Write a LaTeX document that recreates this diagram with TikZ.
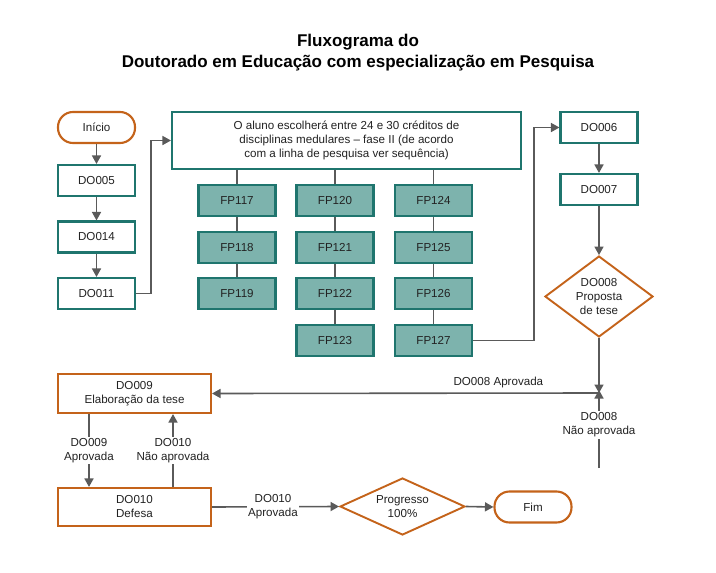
\documentclass[tikz,border=0pt]{standalone}
\usepackage{fontspec}
\setmainfont{Liberation Sans}
\usetikzlibrary{shapes.geometric,arrows.meta,positioning}
\definecolor{teal1}{HTML}{1F756E}
\definecolor{tealfill}{HTML}{7DB3AD}
\definecolor{orng}{HTML}{C4631A}
\definecolor{lgray}{HTML}{5A5A5A}
\definecolor{txt}{HTML}{222222}
\tikzset{
  base/.style={font=\fontsize{11.6}{14}\selectfont, text=txt, align=center, inner sep=0pt},
  tbox/.style={base, draw=teal1, line width=2.1pt, minimum width=77pt, minimum height=31pt},
  fpbox/.style={tbox, fill=tealfill},
  obox/.style={base, draw=orng, line width=2.1pt, minimum width=153pt, minimum height=39pt},
  term/.style={base, draw=orng, line width=2.1pt, rounded corners=15pt, minimum width=77pt, minimum height=31pt},
  dec/.style={base, diamond, draw=orng, line width=1.9pt},
  conn/.style={draw=lgray, line width=1.6pt},
  arr/.style={conn, -{Triangle[length=8.5pt,width=9pt]}},
  lbl/.style={base, fill=white, inner sep=1.5pt}
}
\begin{document}
\begin{tikzpicture}[x=1pt,y=-1pt]
\useasboundingbox (0,0) rectangle (716,573);
\fill[white] (0,0) rectangle (716,573);
% title
\node[base, font=\fontsize{17}{21}\selectfont\bfseries, text=black] (title) at (358,53)
  {Fluxograma do\\Doutorado em Educação com especialização em Pesquisa};
% left column
\node[term] (ini) at (96.5,127.5) {Início};
\node[tbox] (d005) at (96.5,180.5) {DO005};
\node[tbox] (d014) at (96.5,237) {DO014};
\node[tbox] (d011) at (96.5,293.5) {DO011};
% big box
\node[tbox, minimum width=349pt, minimum height=57pt] (big) at (346.5,140.5)
  {O aluno escolherá entre 24 e 30 créditos de\\disciplinas medulares – fase II (de acordo\\com a linha de pesquisa ver sequência)};
% FP columns
\node[fpbox] (fp117) at (237,200.5) {FP117};
\node[fpbox] (fp118) at (237,247.5) {FP118};
\node[fpbox] (fp119) at (237,293.5) {FP119};
\node[fpbox] (fp120) at (335,200.5) {FP120};
\node[fpbox] (fp121) at (335,247.5) {FP121};
\node[fpbox] (fp122) at (335,293.5) {FP122};
\node[fpbox] (fp123) at (335,340.5) {FP123};
\node[fpbox] (fp124) at (433.5,200.5) {FP124};
\node[fpbox] (fp125) at (433.5,247.5) {FP125};
\node[fpbox] (fp126) at (433.5,293.5) {FP126};
\node[fpbox] (fp127) at (433.5,340.5) {FP127};
% right column
\node[tbox] (d006) at (599,127.5) {DO006};
\node[tbox] (d007) at (599,189.5) {DO007};
\node[dec, minimum width=108pt, minimum height=81pt, aspect=1.33] (d008) at (599,296.5) {DO008\\Proposta\\de tese};
\coordinate (J) at (599,393);
\coordinate (B) at (599,468);
% bottom
\node[obox] (d009) at (134.5,393.5) {DO009\\Elaboração da tese};
\node[obox, minimum height=38pt] (d010) at (134.5,507) {DO010\\Defesa};
\node[dec, minimum width=125pt, minimum height=57pt, aspect=2.2] (prog) at (402.5,506.5) {Progresso\\100\%};
\node[term] (fim) at (533,507) {Fim};
% connectors
\draw[arr] (ini) -- (d005);
\draw[arr] (d005) -- (d014);
\draw[arr] (d014) -- (d011);
\draw[arr] (d011.east) -- ++(15,0) |- (big.west);
\foreach \a/\b in {fp117/fp118,fp118/fp119,fp120/fp121,fp121/fp122,fp122/fp123,fp124/fp125,fp125/fp126,fp126/fp127}
  \draw[conn] (\a) -- (\b);
\draw[conn] (fp117.north) -- (fp117.north |- big.south);
\draw[conn] (fp120.north) -- (fp120.north |- big.south);
\draw[conn] (fp124.north) -- (fp124.north |- big.south);
\draw[arr] (fp127.east) -- (534,340.5) |- (d006.west);
\draw[arr] (d006) -- (d007);
\draw[arr] (d007) -- (d008);
\draw[arr] (d008.south) -- (J);
\draw[arr] (B) -- ([yshift=3pt]J) node[lbl, pos=0.55] {DO008\\Não aprovada};
\draw[arr] (J) -- (d009.east) node[base, pos=0.26, above=4pt] {DO008 Aprovada};
\draw[arr] (d009.south -| 89,0) -- (d010.north -| 89,0) node[lbl, midway] {DO009\\Aprovada};
\draw[arr] (d010.north -| 173,0) -- (d009.south -| 173,0) node[lbl, midway] {DO010\\Não aprovada};
\draw[arr] (d010.east) -- (prog.west) node[lbl, pos=0.48] {DO010\\Aprovada};
\draw[arr] (prog.east) -- (fim.west);
\end{tikzpicture}
\end{document}
